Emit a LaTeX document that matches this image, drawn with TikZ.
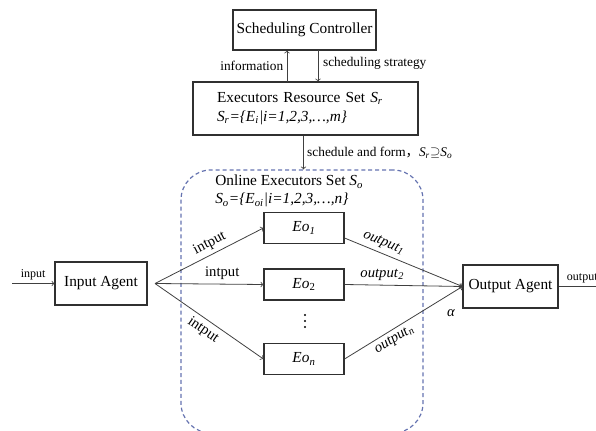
\documentclass[tikz,border=0pt]{standalone}
\usepackage{fontspec}
\setmainfont{Liberation Serif}
\newfontfamily\cjk{Noto Sans CJK SC}
\usetikzlibrary{calc}

\definecolor{linegray}{HTML}{404040}
\definecolor{boxgray}{HTML}{303030}
\definecolor{setblue}{HTML}{6573B0}

\tikzset{
  box/.style={draw=boxgray, line width=0.8pt, rectangle, inner sep=0pt,
    font=\fontsize{11.5}{14}\selectfont},
  link/.style={draw=linegray, line width=0.6pt, ->},
  lbl/.style={font=\fontsize{10}{12}\selectfont, inner sep=1.5pt},
  smalllbl/.style={font=\fontsize{9}{11}\selectfont, inner sep=1.5pt},
  flowlbl/.style={font=\fontsize{11}{13}\selectfont, inner sep=1pt},
}

\begin{document}
\begin{tikzpicture}[x=0.75pt, y=-0.75pt]
  \useasboundingbox (0,0) rectangle (596,431);

  % Drawing the online set (dashed, rounded)
  \node (online) [draw=setblue, line width=0.9pt, dash pattern=on 3pt off 2.2pt,
    rounded corners=22.5pt, minimum width=181.5pt, minimum height=197.25pt]
    at (302,301.5) {};
  \node (onl) [font=\fontsize{11.5}{13.5}\selectfont, align=left, anchor=west, inner sep=0pt]
    at (215,191) {Online Executors Set \textit{S}\textsubscript{\textit{o}}\\
    \textit{S\textsubscript{o}=\{E\textsubscript{oi}|i=1,2,3,\ldots,n\}}};

  % Drawing the boxes
  \node (ctrl) [box, minimum width=107.25pt, minimum height=30pt] at (304.5,30) {Scheduling Controller};
  \node (res) [box, minimum width=168.75pt, minimum height=39.75pt, align=left,
    text width=132.75pt, inner xsep=18pt] at (305.5,108.5)
    {Executors Resource Set \textit{S}\textsubscript{\textit{r}}\\
    \textit{S\textsubscript{r}=\{E\textsubscript{i}|i=1,2,3,\ldots,m\}}};
  \node (inp) [box, minimum width=69pt, minimum height=32.25pt] at (101,283.5) {Input Agent};
  \node (outp) [box, minimum width=71.25pt, minimum height=32.25pt] at (510.5,286.5) {Output Agent};
  \node (eo1) [box, minimum width=60pt, minimum height=23.25pt] at (304,228) {\textit{Eo}\textsubscript{\textit{1}}};
  \node (eo2) [box, minimum width=60pt, minimum height=23.25pt] at (304,284.5) {\textit{Eo}\textsubscript{2}};
  \node (eon) [box, minimum width=60pt, minimum height=23.25pt] at (304,359) {\textit{Eo}\textsubscript{\textit{n}}};

  % Marking the dots between Eo2 and Eon
  \foreach \dy in {315,321,327}
    \fill[black] (305,\dy) circle (0.9pt);

  % Drawing controller links
  \draw[link] (287,82) coordinate (infofrom) -- (infofrom |- ctrl.south)
    node[lbl, midway, anchor=east, xshift=-1pt] {information};
  \draw[link] (318,50) coordinate (stratfrom) -- (stratfrom |- res.north)
    node[lbl, midway, anchor=west, xshift=2pt, yshift=2pt] {scheduling strategy};
  \draw[link] ([xshift=-1.5pt]res.south) coordinate (schedfrom) -- (schedfrom |- online.north)
    node[lbl, midway, anchor=west, xshift=1pt] {schedule and form{\cjk ，}\textit{S}\textsubscript{\textit{r}}$\supseteq$\textit{S}\textsubscript{\textit{o}}};

  % Drawing input side
  \coordinate (inbeg) at (12,283.5);
  \coordinate (split) at (155,283.5);
  \draw[link] (inbeg) -- (inp.west) node[smalllbl, midway, above=1pt] {input};
  \draw[link] (split) -- (eo1.west) node[flowlbl, pos=0.55, sloped, above=2pt] {intput};
  \draw[link] (split) -- (eo2.west) node[flowlbl, pos=0.62, above=2pt] {intput};
  \draw[link] (split) -- (eon.west) node[flowlbl, pos=0.5, sloped, below=2pt] {intput};

  % Drawing output side
  \draw[link] ([yshift=-7.5pt]eo1.east) -- (outp.west)
    node[flowlbl, pos=0.3, sloped, above=2pt] {\textit{output}\textsubscript{\textit{1}}};
  \draw[link] (eo2.east) -- (outp.west)
    node[flowlbl, pos=0.32, above=2pt] {\textit{output}\textsubscript{\textit{2}}};
  \draw[link] (eon.east) -- (outp.west)
    node[flowlbl, pos=0.38, sloped, below=2pt] {\textit{output}\textsubscript{\textit{n}}};
  \node (alpha) [flowlbl] at (451,313) {\textit{α}};

  \coordinate (outend) at (606,286.5);
  \draw[link] (outp.east) -- (outend)
    node[smalllbl, pos=0, anchor=south west, xshift=4.5pt, yshift=1pt] {output};
\end{tikzpicture}
\end{document}
